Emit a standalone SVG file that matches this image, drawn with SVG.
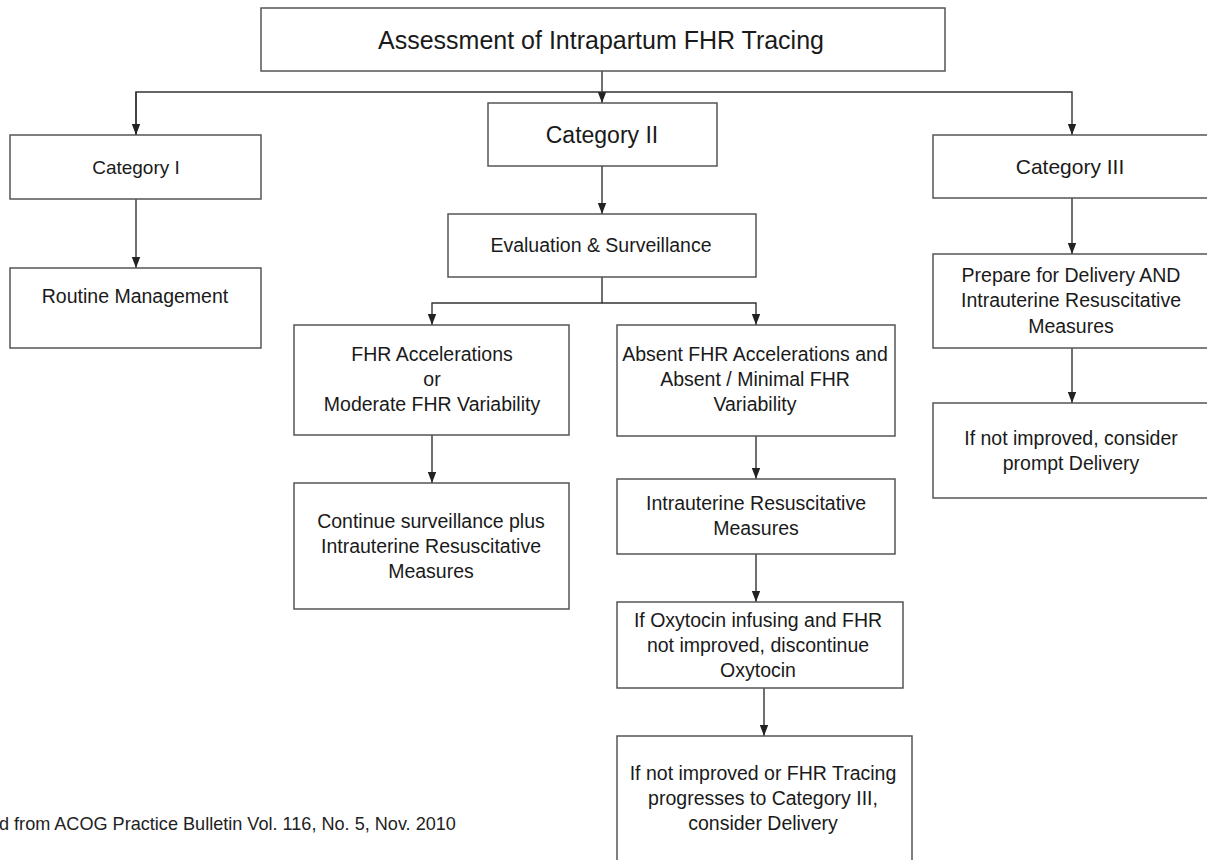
<svg xmlns="http://www.w3.org/2000/svg" width="1207" height="860" viewBox="0 0 1207 860">
<style>
.box{fill:#fff;stroke:#555;stroke-width:1.5}
.t{font-family:"Liberation Sans",Arial,sans-serif;font-size:19.5px;fill:#1a1a1a;text-anchor:middle}
.c{fill:none;stroke:#333;stroke-width:1.4}
</style>
<defs>
<marker id="ah" markerUnits="userSpaceOnUse" markerWidth="11" markerHeight="11" viewBox="0 0 11 11" refX="11" refY="5.5" orient="auto">
<path d="M0,1.3 L11,5.5 L0,9.7 z" fill="#222"/>
</marker>
</defs>
<rect width="1207" height="860" fill="#fff"/>
<g id="connectors">
<path class="c" d="M602,71 V103" marker-end="url(#ah)"/>
<path class="c" d="M136,135 V92 H1072 V135" marker-end="url(#ah)"/>
<path class="c" d="M136,92 V135" marker-end="url(#ah)"/>
<path class="c" d="M136,199 V268" marker-end="url(#ah)"/>
<path class="c" d="M602,166 V214" marker-end="url(#ah)"/>
<path class="c" d="M602,277 V303 H432 V325" marker-end="url(#ah)"/>
<path class="c" d="M602,303 H756 V325" marker-end="url(#ah)"/>
<path class="c" d="M432,435 V483" marker-end="url(#ah)"/>
<path class="c" d="M756,436 V479" marker-end="url(#ah)"/>
<path class="c" d="M756,554 V602" marker-end="url(#ah)"/>
<path class="c" d="M764,688 V736" marker-end="url(#ah)"/>
<path class="c" d="M1072,198 V254" marker-end="url(#ah)"/>
<path class="c" d="M1072,348 V403" marker-end="url(#ah)"/>
</g>
<g id="n-top">
<rect class="box" x="261" y="8" width="684" height="63"/>
<text class="t" x="601" y="48.5" style="font-size:25px">Assessment of Intrapartum FHR Tracing</text>
</g>
<g id="n-cat1">
<rect class="box" x="10" y="135" width="251" height="64"/>
<text class="t" x="136" y="174" style="font-size:19px">Category I</text>
</g>
<g id="n-cat2">
<rect class="box" x="488" y="103" width="229" height="63"/>
<text class="t" x="602" y="143" style="font-size:23px">Category II</text>
</g>
<g id="n-cat3">
<rect class="box" x="933" y="135" width="300" height="63"/>
<text class="t" x="1070" y="174" style="font-size:21px">Category III</text>
</g>
<g id="n-routine">
<rect class="box" x="10" y="268" width="251" height="80"/>
<text class="t" x="135" y="303">Routine Management</text>
</g>
<g id="n-eval">
<rect class="box" x="448" y="214" width="308" height="63"/>
<text class="t" x="601" y="252">Evaluation &amp; Surveillance</text>
</g>
<g id="n-acc">
<rect class="box" x="294" y="325" width="275" height="110"/>
<text class="t" x="432" y="361">FHR Accelerations</text>
<text class="t" x="432" y="386">or</text>
<text class="t" x="432" y="411">Moderate FHR Variability</text>
</g>
<g id="n-absent">
<rect class="box" x="617" y="325" width="278" height="111"/>
<text class="t" x="755" y="361">Absent FHR Accelerations and</text>
<text class="t" x="755" y="386">Absent / Minimal FHR</text>
<text class="t" x="755" y="411">Variability</text>
</g>
<g id="n-continue">
<rect class="box" x="294" y="483" width="275" height="126"/>
<text class="t" x="431" y="528">Continue surveillance plus</text>
<text class="t" x="431" y="553">Intrauterine Resuscitative</text>
<text class="t" x="431" y="578">Measures</text>
</g>
<g id="n-iur">
<rect class="box" x="617" y="479" width="278" height="75"/>
<text class="t" x="756" y="510">Intrauterine Resuscitative</text>
<text class="t" x="756" y="535">Measures</text>
</g>
<g id="n-oxy">
<rect class="box" x="617" y="602" width="286" height="86"/>
<text class="t" x="758" y="627">If Oxytocin infusing and FHR</text>
<text class="t" x="758" y="652">not improved, discontinue</text>
<text class="t" x="758" y="677">Oxytocin</text>
</g>
<g id="n-last">
<rect class="box" x="617" y="736" width="295" height="150"/>
<text class="t" x="763" y="780">If not improved or FHR Tracing</text>
<text class="t" x="763" y="805">progresses to Category III,</text>
<text class="t" x="763" y="830">consider Delivery</text>
</g>
<g id="n-prepare">
<rect class="box" x="933" y="254" width="300" height="94"/>
<text class="t" x="1071" y="282">Prepare for Delivery AND</text>
<text class="t" x="1071" y="307">Intrauterine Resuscitative</text>
<text class="t" x="1071" y="333">Measures</text>
</g>
<g id="n-prompt">
<rect class="box" x="933" y="403" width="300" height="95"/>
<text class="t" x="1071" y="445">If not improved, consider</text>
<text class="t" x="1071" y="470">prompt Delivery</text>
</g>
<text x="-1" y="830" style="font-family:'Liberation Sans',Arial,sans-serif;font-size:18.1px;fill:#222">d from ACOG Practice Bulletin Vol. 116, No. 5, Nov. 2010</text>
</svg>
